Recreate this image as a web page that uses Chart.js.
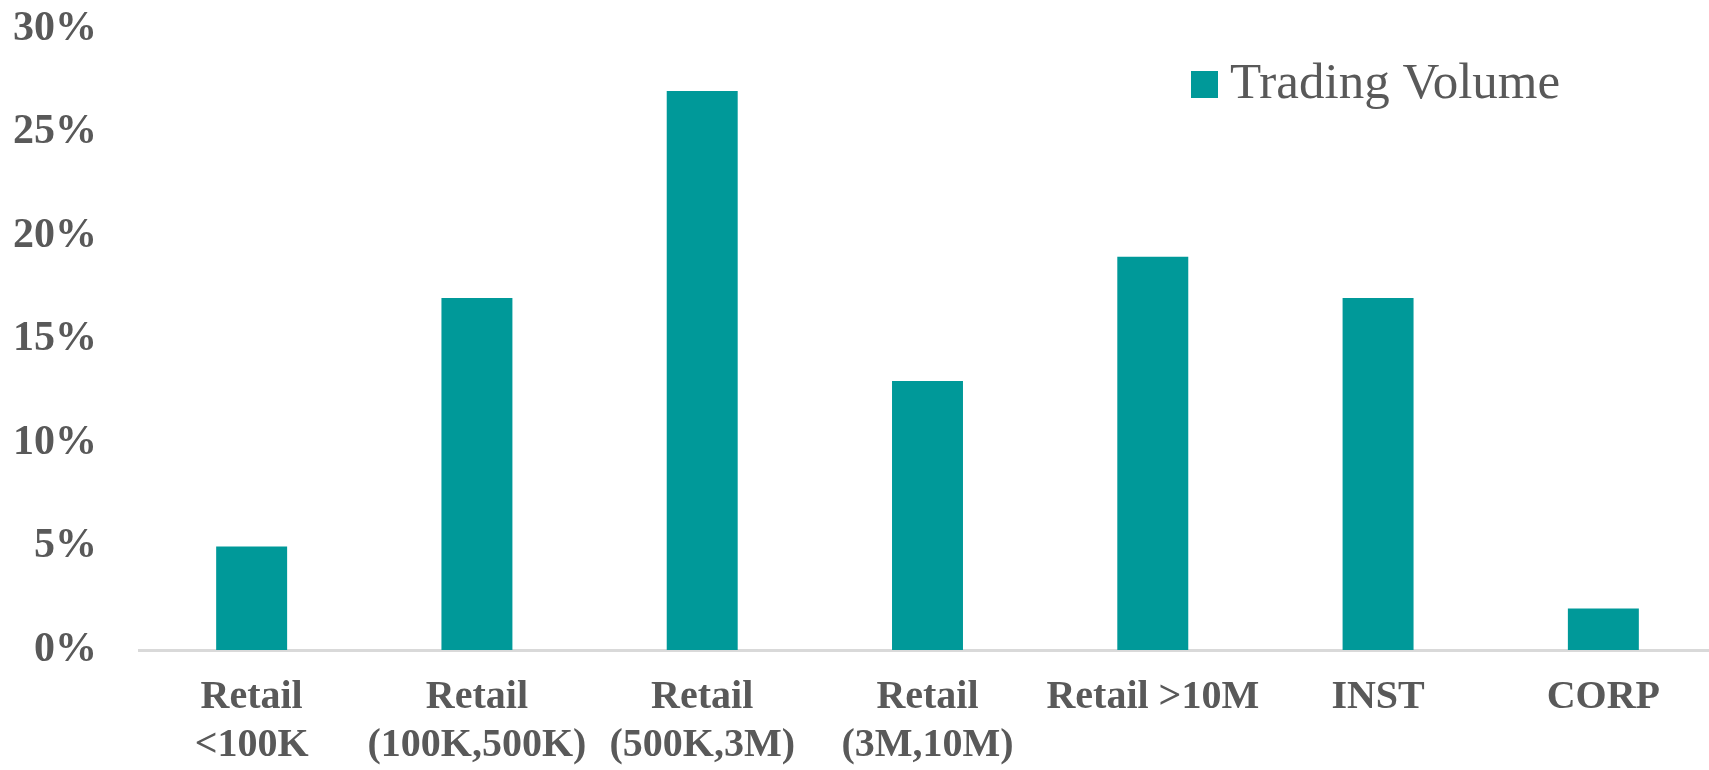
<!DOCTYPE html>
<html>
<head>
<meta charset="utf-8">
<script src="https://cdn.jsdelivr.net/npm/chart.js@4"></script>
<style>
  html, body { margin: 0; padding: 0; background: #ffffff; overflow: hidden; }
  #wrap { position: relative; width: 1716px; height: 770px; }
</style>
</head>
<body>
<div id="wrap"><canvas id="c"></canvas></div>
<script>
const categories = [
  ["Retail", "<100K"],
  ["Retail", "(100K,500K)"],
  ["Retail", "(500K,3M)"],
  ["Retail", "(3M,10M)"],
  "Retail >10M",
  "INST",
  "CORP"
];
const seriesName = "Trading Volume";
const tradingVolume = [5, 17, 27, 13, 19, 17, 2];
const yTicks = [0, 5, 10, 15, 20, 25, 30];

const TEAL = "#009999";
const TEXT = "#595959";
const SERIF = "'Liberation Serif', 'Times New Roman', serif";

const insideLegend = {
  id: "insideLegend",
  afterDraw(chart, args, opts) {
    const ctx = chart.ctx;
    ctx.save();
    let y = opts.y;
    chart.data.datasets.forEach(ds => {
      ctx.fillStyle = ds.backgroundColor;
      ctx.fillRect(opts.x, y, opts.box, opts.box);
      ctx.fillStyle = opts.color;
      ctx.font = opts.font;
      ctx.textBaseline = "middle";
      ctx.textAlign = "left";
      ctx.fillText(ds.label, opts.x + opts.box + opts.gap, y + opts.box / 2);
      y += opts.box + 20;
    });
    ctx.restore();
  }
};

new Chart(document.getElementById("c"), {
  type: "bar",
  data: {
    labels: categories,
    datasets: [{
      label: seriesName,
      data: tradingVolume,
      backgroundColor: TEAL,
      borderWidth: 0,
      barPercentage: 0.315,
      categoryPercentage: 1.0
    }]
  },
  options: {
    responsive: true,
    maintainAspectRatio: false,
    animation: false,
    layout: { padding: { top: 29, left: 0, right: 0, bottom: 0 } },
    plugins: {
      legend: { display: false },
      tooltip: { enabled: false },
      insideLegend: {
        x: 1191, y: 71, box: 27, gap: 12,
        color: TEXT,
        font: "51px " + SERIF
      }
    },
    scales: {
      x: {
        grid: { display: false, drawTicks: false },
        border: { display: true, color: "#d9d9d9", width: 3 },
        ticks: {
          color: TEXT,
          font: { family: SERIF, size: 40, weight: "bold", lineHeight: 1.2 },
          padding: 24,
          maxRotation: 0,
          minRotation: 0,
          autoSkip: false
        },
        afterFit(scale) { scale.height = 120; scale.paddingLeft = 0; scale.paddingRight = 0; }
      },
      y: {
        min: 0,
        max: 30,
        grid: { display: false, drawTicks: false },
        border: { display: false },
        afterBuildTicks(scale) { scale.ticks = yTicks.map(v => ({ value: v })); },
        ticks: {
          color: TEXT,
          font: { family: SERIF, size: 42, weight: "bold" },
          padding: 42,
          callback: v => v + "%"
        },
        afterFit(scale) { scale.width = 139; scale.paddingTop = 0; scale.paddingBottom = 0; }
      }
    }
  },
  plugins: [insideLegend]
});
</script>
</body>
</html>
